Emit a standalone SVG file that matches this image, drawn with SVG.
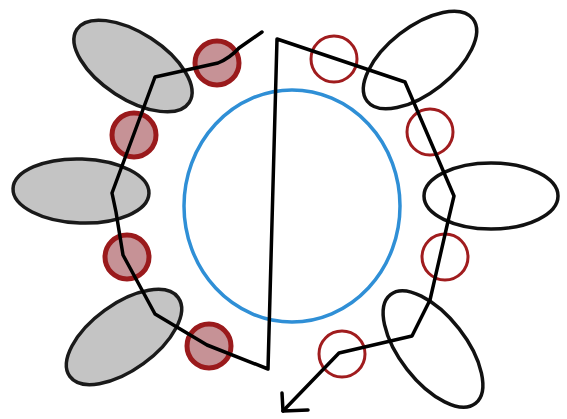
<svg xmlns="http://www.w3.org/2000/svg" width="567" height="419" viewBox="0 0 567 419">
<style>
.bg{fill:#fff}
.gray{fill:#c4c4c4;stroke:#1a1a1a;stroke-width:3.5}
.open{fill:none;stroke:#111;stroke-width:3.5}
.rf{fill:#c69296;stroke:#9a1a1c;stroke-width:5}
.ro{fill:none;stroke:#a01c1e;stroke-width:3}
.blue{fill:none;stroke:#2f8fd6;stroke-width:3.5}
.path{fill:none;stroke:#000;stroke-width:3.5;stroke-linejoin:round;stroke-linecap:round}
</style>
<rect class="bg" x="0" y="0" width="567" height="419"/>
<g id="center"><ellipse class="blue" cx="292" cy="206" rx="108" ry="116"/></g>
<g id="gray1"><ellipse class="gray" cx="133" cy="66" rx="67" ry="33" transform="rotate(33 133 66)"/></g>
<g id="gray2"><ellipse class="gray" cx="81" cy="191" rx="68" ry="32" transform="rotate(2 81 191)"/></g>
<g id="gray3"><ellipse class="gray" cx="124" cy="337" rx="67" ry="33" transform="rotate(-36 124 337)"/></g>
<g id="ell1"><ellipse class="open" cx="420" cy="60" rx="67" ry="33" transform="rotate(-38 420 60)"/></g>
<g id="ell2"><ellipse class="open" cx="491" cy="196" rx="67" ry="33"/></g>
<g id="ell3"><ellipse class="open" cx="433" cy="349" rx="69" ry="33" transform="rotate(52 433 349)"/></g>
<g id="rf1"><circle class="rf" cx="217" cy="63" r="22"/></g>
<g id="rf2"><circle class="rf" cx="134" cy="135" r="22"/></g>
<g id="rf3"><circle class="rf" cx="127" cy="257" r="22"/></g>
<g id="rf4"><circle class="rf" cx="209" cy="346" r="22"/></g>
<g id="ro1"><circle class="ro" cx="334" cy="59" r="23"/></g>
<g id="ro2"><circle class="ro" cx="430" cy="132" r="23"/></g>
<g id="ro3"><circle class="ro" cx="445" cy="257" r="23"/></g>
<g id="ro4"><circle class="ro" cx="342" cy="354" r="23"/></g>
<g id="connectors">
<path class="path" d="M262 32 L239 48 Q230 58 218 63 L155 77 L112 193 L116 212 L123 255 L155 314 L207 345 L268 369 L277 39 L405 82 L454 196 L449 217 L430 300 L412 336 L339 353 L283 411"/>
<path class="path" d="M282 393 L283 411 L308 410"/>
</g>
</svg>
